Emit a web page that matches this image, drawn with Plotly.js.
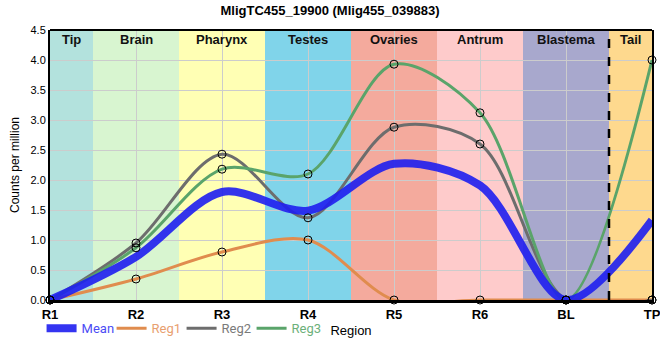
<!DOCTYPE html>
<html>
<head>
<meta charset="utf-8">
<script src="https://cdn.plot.ly/plotly-3.0.1.min.js"></script>
<style>body{margin:0;padding:0;background:#fff}#chart{width:660px;height:360px}</style>
</head>
<body>
<div id="chart"></div>
<script>
const categories = ["R1","R2","R3","R4","R5","R6","BL","TP"];
const meanVals = [0, 0.72, 1.80, 1.49, 2.27, 1.91, 0, 1.33];
const reg1Vals = [0, 0.35, 0.80, 1.00, 0, 0, 0, 0];
const reg2Vals = [0, 0.95, 2.43, 1.37, 2.88, 2.60, 0, 0];
const reg3Vals = [0, 0.87, 2.18, 2.10, 3.93, 3.12, 0, 4.00];
const regionNames = ["Tip","Brain","Pharynx","Testes","Ovaries","Antrum","Blastema","Tail"];
const regionStart = [0, 0.5, 1.5, 2.5, 3.5, 4.5, 5.5, 6.5];
const regionEnd   = [0.5, 1.5, 2.5, 3.5, 4.5, 5.5, 6.5, 7];
const regionColors = ["#b3e2dd","#d8f5d0","#ffffb4","#80d4ea","#f4aa9d","#fecbcb","#a8a8cd","#fed98e"];

const xIdx = categories.map((c,i)=>i);
const SM = 0.9;
const markerStyle = {symbol:"circle", size:8, color:"rgba(255,255,255,0)", line:{color:"#000", width:1}};
function lineTrace(name, vals, color, textColor){
  return {x:xIdx, y:vals, type:"scatter", mode:"lines",
    name:'<span style="color:'+textColor+'">'+name+'</span>',
    line:{color:color, width:3, shape:"spline", smoothing:SM}};
}
function markTrace(vals){
  return {x:xIdx, y:vals, type:"scatter", mode:"markers", showlegend:false, marker:markerStyle, cliponaxis:false};
}
const traces = [
  lineTrace("Reg1", reg1Vals, "#e08c4e", "#e8a070"),
  lineTrace("Reg2", reg2Vals, "#6d6d6d", "#7a7a7a"),
  lineTrace("Reg3", reg3Vals, "#5aa46a", "#6cb07a"),
  {x:xIdx, y:meanVals, type:"scatter", mode:"lines", name:'<span style="color:#4b4bf5">Mean</span>',
   line:{color:"rgba(30,30,240,0.9)", width:8, shape:"spline", smoothing:SM}, legendrank:1},
  markTrace(reg1Vals), markTrace(reg2Vals), markTrace(reg3Vals)
];
traces[0].legendrank = 2; traces[1].legendrank = 3; traces[2].legendrank = 4;

const shapes = regionNames.map((n,i)=>({type:"rect", xref:"x", yref:"paper",
  x0:regionStart[i], x1:regionEnd[i], y0:0, y1:1, fillcolor:regionColors[i], line:{width:0}, layer:"below"}));
shapes.push({type:"line", xref:"x", yref:"paper", x0:6.5, x1:6.5, y0:0, y1:1, line:{color:"#000", width:2.5, dash:"dash"}});
shapes.push({type:"line", xref:"paper", yref:"paper", x0:0, x1:1, y0:1, y1:1, line:{color:"#000", width:2}});

const annotations = regionNames.map((n,i)=>({xref:"x", yref:"paper", x:(regionStart[i]+regionEnd[i])/2, y:1,
  yanchor:"top", yshift:0, text:"<b>"+n+"</b>", showarrow:false,
  font:{family:"Liberation Sans, Arial, sans-serif", size:13, color:"#111"}}));

const layout = {
  width:660, height:360,
  margin:{l:50, r:8, t:30, b:60},
  paper_bgcolor:"#fff", plot_bgcolor:"#fff",
  title:{text:"<b>MligTC455_19900 (Mlig455_039883)</b>", x:0.5, xanchor:"center", y:0.985, yanchor:"top",
    font:{family:"Liberation Sans, Arial, sans-serif", size:13, color:"#000"}},
  xaxis:{range:[0,7], tickvals:xIdx, ticktext:categories.map(c=>"<b>"+c+"</b>"), ticklabeloverflow:"allow",
    showgrid:true, gridcolor:"#cccccc", gridwidth:1, zeroline:false,
    showline:true, linecolor:"#000", linewidth:3, ticks:"",
    tickfont:{family:"Liberation Sans, Arial, sans-serif", size:13, color:"#000"},
    title:{text:"Region", standoff:6, font:{family:"Liberation Sans, Arial, sans-serif", size:13, color:"#000"}}},
  yaxis:{range:[0,4.5], dtick:0.5, tickformat:".1f",
    showgrid:true, gridcolor:"#cccccc", gridwidth:1, zeroline:false,
    showline:true, linecolor:"#000", linewidth:2, mirror:true, ticks:"",
    tickfont:{family:"Liberation Sans, Arial, sans-serif", size:11, color:"#000"},
    title:{text:"Counts per million", standoff:8, font:{family:"Liberation Sans, Arial, sans-serif", size:12, color:"#000"}}},
  showlegend:true,
  legend:{orientation:"h", x:-0.014, xanchor:"left", y:-0.105, yanchor:"middle", itemwidth:30,
    entrywidth:25, entrywidthmode:"pixels", traceorder:"normal",
    font:{family:"Roboto, sans-serif", size:13}, bgcolor:"rgba(0,0,0,0)", tracegroupgap:0},
  shapes:shapes, annotations:annotations
};
Plotly.newPlot("chart", traces, layout, {displayModeBar:false, staticPlot:true});
</script>
</body>
</html>
